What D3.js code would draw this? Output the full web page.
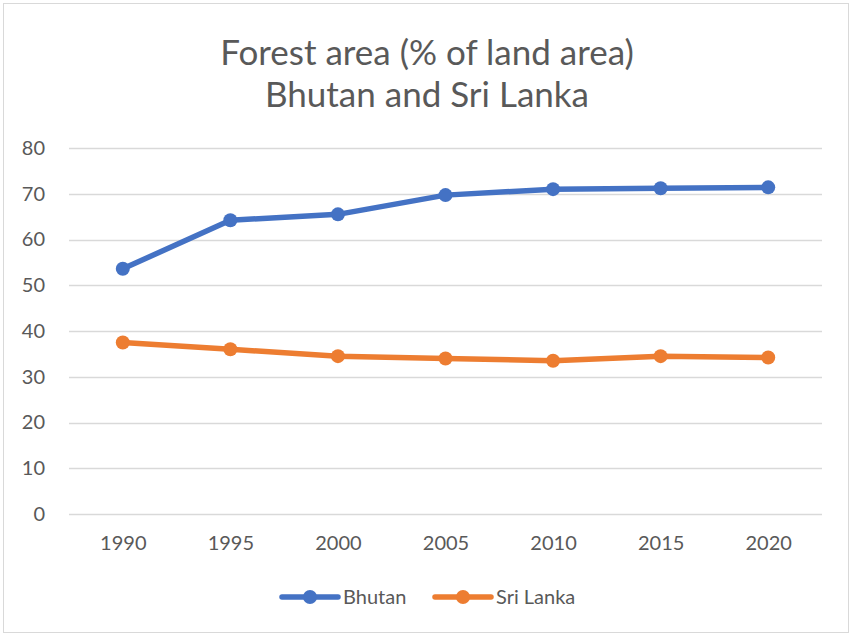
<!DOCTYPE html>
<head>
    <title>Forest area</title>
    <meta charset="utf-8">
    <style>
        body { margin: 0; background: #fff; }
        text { font-family: Lato, "Open Sans", sans-serif; fill: #595959; }
    </style>
</head>
<body>
<div id="graph"></div>
</body>

<script src="https://d3js.org/d3.v7.min.js"></script>

<script>
    // data
    var years = ["1990", "1995", "2000", "2005", "2010", "2015", "2020"];
    var bhutan = [53.6, 64.2, 65.5, 69.7, 71.0, 71.2, 71.4];
    var sriLanka = [37.5, 36.0, 34.5, 34.0, 33.5, 34.5, 34.2];
    var yTicks = [0, 10, 20, 30, 40, 50, 60, 70, 80];

    var series = [
        {name: "Bhutan", values: bhutan, color: "#4472C4"},
        {name: "Sri Lanka", values: sriLanka, color: "#ED7D31"}
    ];

    var W = 852, H = 636;
    var margin = {top: 148, right: 30, bottom: 122, left: 69};
    var width = W - margin.left - margin.right,
        height = H - margin.top - margin.bottom;

    var svgRoot = d3.select("#graph").append("svg")
        .attr("width", W)
        .attr("height", H);

    // chart border
    svgRoot.append("rect")
        .attr("x", 3.5).attr("y", 3.5)
        .attr("width", W - 7).attr("height", H - 7)
        .attr("fill", "#fff")
        .attr("stroke", "#d9d9d9");

    // title
    svgRoot.append("text")
        .attr("x", W / 2 + 1).attr("y", 65)
        .attr("text-anchor", "middle")
        .style("font-size", "35px")
        .text("Forest area (% of land area)");
    svgRoot.append("text")
        .attr("x", W / 2 + 1).attr("y", 107)
        .attr("text-anchor", "middle")
        .style("font-size", "35px")
        .text("Bhutan and Sri Lanka");

    var svg = svgRoot.append("g")
        .attr("transform", "translate(" + margin.left + "," + margin.top + ")");

    var xScale = d3.scalePoint()
        .domain(years)
        .range([0, width])
        .padding(0.5);

    var yScale = d3.scaleLinear()
        .domain([0, 80])
        .range([height, 0]);

    // gridlines
    svg.append("g")
        .selectAll("line")
        .data(yTicks)
        .join("line")
        .attr("x1", 0).attr("x2", width)
        .attr("y1", d => Math.round(yScale(d)) + 0.5)
        .attr("y2", d => Math.round(yScale(d)) + 0.5)
        .attr("stroke", "#d9d9d9")
        .attr("stroke-width", 1.3);

    // y axis labels
    var yAxis = svg.append("g")
        .call(d3.axisLeft(yScale).tickValues(yTicks).tickSize(0).tickPadding(24));
    yAxis.select(".domain").remove();
    yAxis.selectAll("text").style("font-size", "20px").attr("fill", "#595959");

    // x axis labels
    var xAxis = svg.append("g")
        .attr("transform", "translate(0," + height + ")")
        .call(d3.axisBottom(xScale).tickSize(0).tickPadding(22));
    xAxis.select(".domain").remove();
    xAxis.selectAll("text").style("font-size", "20px").attr("fill", "#595959");

    var line = d3.line()
        .x((d, i) => xScale(years[i]))
        .y(d => yScale(d));

    series.forEach(function(s) {
        svg.append("path")
            .datum(s.values)
            .attr("fill", "none")
            .attr("stroke", s.color)
            .attr("stroke-width", 5.5)
            .attr("stroke-linejoin", "round")
            .attr("d", line);

        svg.append("g")
            .selectAll("circle")
            .data(s.values)
            .join("circle")
            .attr("cx", (d, i) => xScale(years[i]))
            .attr("cy", d => yScale(d))
            .attr("r", 7)
            .attr("fill", s.color);
    });

    // legend
    var legend = svgRoot.append("g")
        .attr("transform", "translate(0,597)");
    var legendX = [282, 435];
    series.forEach(function(s, i) {
        var g = legend.append("g").attr("transform", "translate(" + legendX[i] + ",0)");
        g.append("line")
            .attr("x1", 0).attr("x2", 56)
            .attr("stroke", s.color)
            .attr("stroke-width", 5.5)
            .attr("stroke-linecap", "round");
        g.append("circle")
            .attr("cx", 28).attr("r", 7)
            .attr("fill", s.color);
        g.append("text")
            .attr("x", 61).attr("y", 0)
            .attr("dy", "0.35em")
            .style("font-size", "20px")
            .text(s.name);
    });
</script>
